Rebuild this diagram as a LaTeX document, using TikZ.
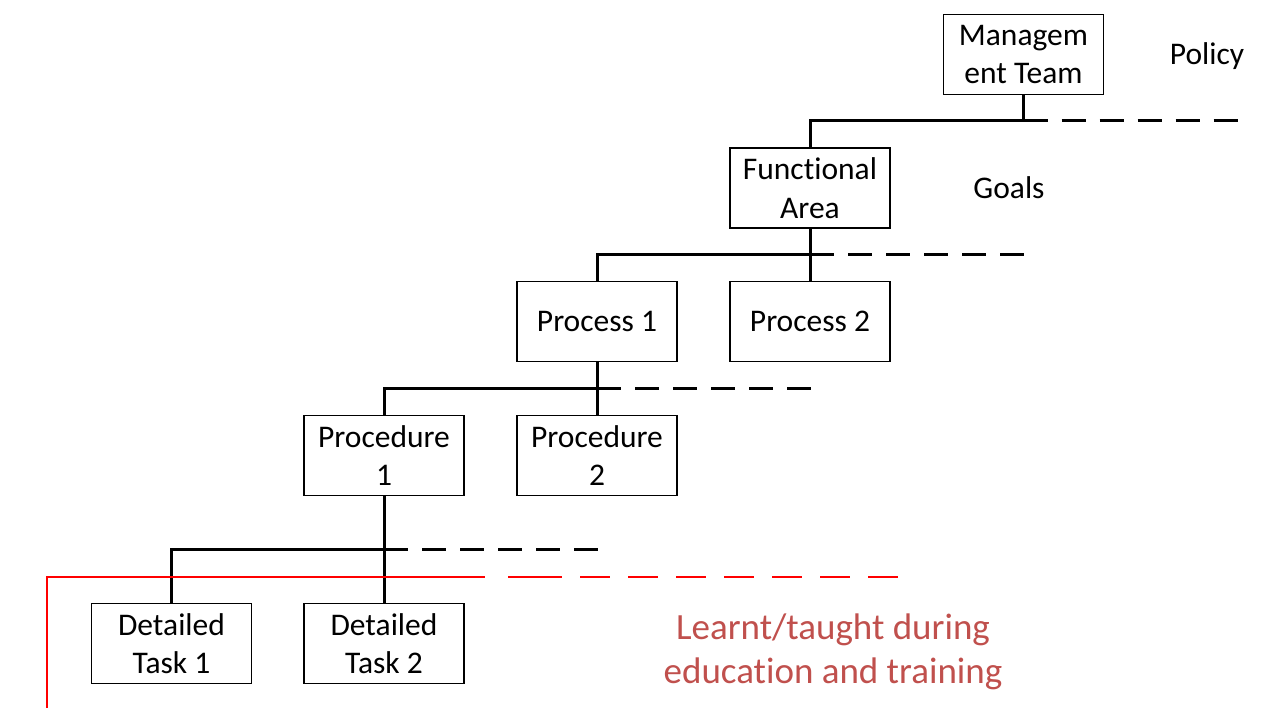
\documentclass[tikz,border=0pt]{standalone}
\usepackage{fontspec}
\setmainfont{Carlito}[Ligatures=NoCommon]
\definecolor{redtext}{RGB}{192,80,77}
\definecolor{redline}{RGB}{255,0,0}
\begin{document}
\begin{tikzpicture}[x=1pt,y=-1pt,
  box/.style={draw=black,line width=1.3pt,minimum width=160pt,minimum height=80pt,inner sep=0pt,align=center,font=\fontsize{31.5}{38.5}\selectfont},
  lbl/.style={inner sep=0pt,align=center,font=\fontsize{31.5}{38.5}\selectfont},
  conn/.style={line width=3pt},
  dline/.style={line width=3pt,dash pattern=on 24pt off 14pt},
  rline/.style={draw=redline,line width=1.6pt},
  rdash/.style={draw=redline,line width=1.6pt,dash pattern=on 30pt off 18pt}]
\useasboundingbox (0,0) rectangle (1278,708);
\node[box] (mt) at (1023.5,54.5) {Managem\\ent Team};
\node[box] (fa) at (810,188) {Functional\\Area};
\node[box] (p1) at (597,321.5) {Process 1};
\node[box] (p2) at (810,321.5) {Process 2};
\node[box] (pr1) at (384,455.5) {Procedure\\1};
\node[box] (pr2) at (597,455.5) {Procedure\\2};
\node[box] (dt1) at (171.5,643.5) {Detailed\\Task 1};
\node[box] (dt2) at (384,643.5) {Detailed\\Task 2};
\node[lbl] (pol) at (1207,56) {Policy};
\node[lbl] (goal) at (1009,188) {Goals};
\node[inner sep=0pt,align=center,text=redtext,font=\fontsize{37}{44}\selectfont] (learn) at (833,652) {Learnt/taught during\\education and training};
% level 1
\coordinate (j1) at (1023.5,121);
\coordinate (e1) at (1238,121);
\draw[conn] (mt.south) -- (j1) -| (fa.north);
\draw[dline] (j1) -- (e1);
% level 2
\coordinate (j2) at (810,255);
\coordinate (e2) at (1025,255);
\draw[conn] (fa.south) -- (p2.north);
\draw[conn] (j2) -| (p1.north);
\draw[dline] (j2) -- (e2);
% level 3
\coordinate (j3) at (597,389);
\coordinate (e3) at (812,389);
\draw[conn] (p1.south) -- (pr2.north);
\draw[conn] (j3) -| (pr1.north);
\draw[dline] (j3) -- (e3);
% level 4
\coordinate (j4) at (384,549);
\coordinate (e4) at (599,549);
\draw[conn] (pr1.south) -- (dt2.north);
\draw[conn] (j4) -| (dt1.north);
\draw[dline] (j4) -- (e4);
% red line
\coordinate (r0) at (47,708);
\coordinate (r1) at (47,577);
\coordinate (r2) at (485,577);
\coordinate (r3) at (508,577);
\coordinate (r4) at (562,577);
\coordinate (r5) at (580,577);
\coordinate (r6) at (898,577);
\draw[rline] (r0) -- (r1) -- (r2);
\draw[rline] (r3) -- (r4);
\draw[rdash] (r5) -- (r6);
\end{tikzpicture}
\end{document}
